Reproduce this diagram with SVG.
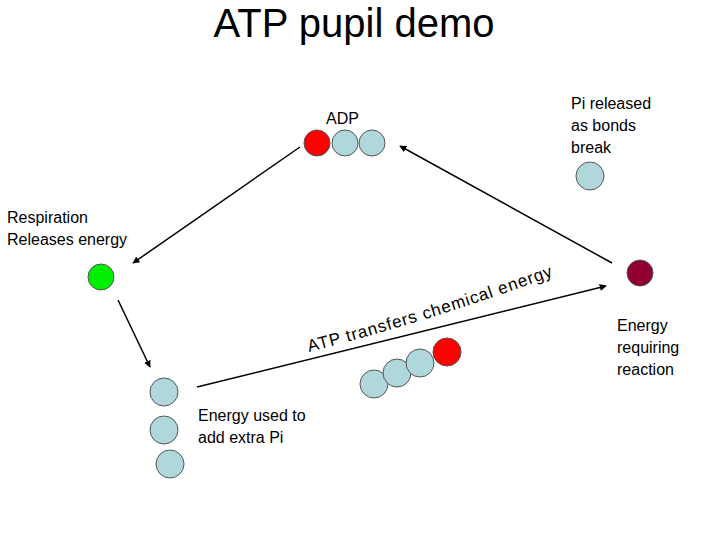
<svg xmlns="http://www.w3.org/2000/svg" width="720" height="540" viewBox="0 0 720 540">
<style>
text{font-family:"Liberation Sans",Arial,sans-serif;fill:#000}
.l{font-size:16px}
.b{fill:#b0d8dc;stroke:#555;stroke-width:1}
.ln{stroke:#000;stroke-width:1.5;fill:none;marker-end:url(#ah)}
</style>
<defs>
<marker id="ah" viewBox="0 0 10 10" refX="9" refY="5" markerWidth="7" markerHeight="7" orient="auto-start-reverse" markerUnits="userSpaceOnUse"><path d="M0,0 L10,5 L0,10 z" fill="#000"/></marker>
<path id="arc" d="M309,352 Q440,318 558,274"/>
</defs>
<text x="354" y="37" font-size="40" text-anchor="middle">ATP pupil demo</text>
<g id="connectors">
<line class="ln" x1="300" y1="147" x2="133" y2="263"/>
<line class="ln" x1="612" y1="263" x2="400" y2="146"/>
<line class="ln" x1="118" y1="300" x2="150" y2="367"/>
<line class="ln" x1="197" y1="387" x2="606" y2="286"/>
</g>
<g id="adp">
<text class="l" x="326" y="124">ADP</text>
<circle cx="317" cy="143" r="13" fill="#f00" stroke="#555"/>
<circle class="b" cx="345" cy="143" r="13"/>
<circle class="b" cx="372" cy="143" r="13"/>
</g>
<g id="pi">
<text class="l" x="571" y="109">Pi released</text>
<text class="l" x="571" y="131">as bonds</text>
<text class="l" x="571" y="153">break</text>
<circle class="b" cx="590" cy="176" r="14"/>
</g>
<g id="respiration">
<text class="l" x="7" y="223">Respiration</text>
<text class="l" x="7" y="245">Releases energy</text>
<circle cx="101" cy="277" r="13" fill="#0e0" stroke="#555"/>
</g>
<g id="energyreq">
<circle cx="640" cy="273" r="13" fill="#900030" stroke="#555"/>
<text class="l" x="617" y="331">Energy</text>
<text class="l" x="617" y="353">requiring</text>
<text class="l" x="617" y="375">reaction</text>
</g>
<g id="addpi">
<circle class="b" cx="164" cy="392" r="14"/>
<circle class="b" cx="164" cy="430" r="14"/>
<circle class="b" cx="170" cy="464" r="14"/>
<text class="l" x="198" y="421">Energy used to</text>
<text class="l" x="198" y="443">add extra Pi</text>
</g>
<g id="atp">
<circle class="b" cx="374" cy="384" r="14"/>
<circle class="b" cx="397" cy="373" r="14"/>
<circle class="b" cx="420" cy="363" r="14"/>
<circle cx="447" cy="352" r="14" fill="#f00" stroke="#555"/>
<text font-size="17"><textPath href="#arc" textLength="256" lengthAdjust="spacing">ATP transfers chemical energy</textPath></text>
</g>
</svg>
